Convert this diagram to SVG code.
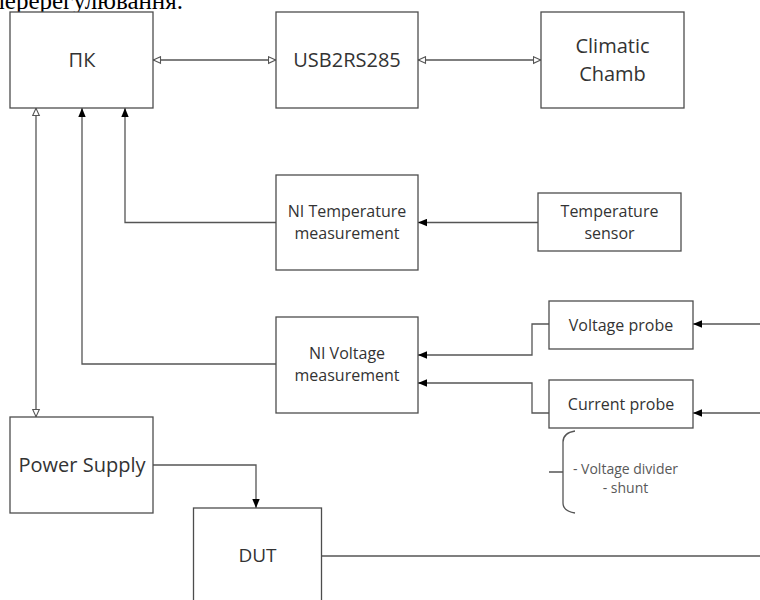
<svg xmlns="http://www.w3.org/2000/svg" width="760" height="600" viewBox="0 0 760 600">
<style>
  .box { fill: #ffffff; stroke: #4d4d4d; stroke-width: 1.3; }
  .ln { fill: none; stroke: #555555; stroke-width: 1.3; }
  .t { font-family: "Open Sans", "Liberation Sans", sans-serif; fill: #333333; text-anchor: middle; }
  .big { font-size: 20px; }
  .mid { font-size: 16px; }
  .note { font-family: "Open Sans", "Liberation Sans", sans-serif; font-size: 14px; fill: #595959; text-anchor: middle; }
  .cap { font-family: "Liberation Serif", serif; font-size: 25px; fill: #000000; }
</style>
<defs>
  <marker id="fa" markerUnits="userSpaceOnUse" markerWidth="10" markerHeight="8" viewBox="0 0 10 8" refX="9" refY="4" orient="auto-start-reverse">
    <path d="M0,0.3 L9,4 L0,7.7 z" fill="#000000"/>
  </marker>
  <marker id="oa" markerUnits="userSpaceOnUse" markerWidth="10" markerHeight="9" viewBox="0 0 10 9" refX="8.5" refY="4.5" orient="auto-start-reverse">
    <path d="M1,1.2 L8.2,4.5 L1,7.8 z" fill="#ffffff" stroke="#555555" stroke-width="1.1"/>
  </marker>
</defs>
<rect width="760" height="600" fill="#ffffff"/>
<text class="cap" x="183" y="9" text-anchor="end">перерегулювання.</text>

<g id="connectors">
  <path class="ln" d="M153,60 L276,60" marker-start="url(#oa)" marker-end="url(#oa)"/>
  <path class="ln" d="M418,60 L541,60" marker-start="url(#oa)" marker-end="url(#oa)"/>
  <path class="ln" d="M36,108 L36,417" marker-start="url(#oa)" marker-end="url(#oa)"/>
  <path class="ln" d="M276,364 L82,364 L82,108" marker-end="url(#fa)"/>
  <path class="ln" d="M276,222.5 L125,222.5 L125,108" marker-end="url(#fa)"/>
  <path class="ln" d="M538,222.5 L418,222.5" marker-end="url(#fa)"/>
  <path class="ln" d="M549,324 L532,324 L532,355 L418,355" marker-end="url(#fa)"/>
  <path class="ln" d="M549,413 L532,413 L532,383 L418,383" marker-end="url(#fa)"/>
  <path class="ln" d="M760,324 L693,324" marker-end="url(#fa)"/>
  <path class="ln" d="M760,413 L693,413" marker-end="url(#fa)"/>
  <path class="ln" d="M153,465 L256,465 L256,508" marker-end="url(#fa)"/>
  <path class="ln" d="M322,556 L760,556"/>
</g>

<g id="pk">
  <rect class="box" x="10" y="12" width="143" height="96"/>
  <text class="t big" x="82" y="67">ПК</text>
</g>
<g id="usb2rs285">
  <rect class="box" x="276" y="12" width="142" height="96"/>
  <text class="t big" x="347" y="67">USB2RS285</text>
</g>
<g id="climatic">
  <rect class="box" x="541" y="12" width="143" height="96"/>
  <text class="t big" x="612.5" y="53">Climatic</text>
  <text class="t big" x="612.5" y="81">Chamb</text>
</g>
<g id="ni-temp">
  <rect class="box" x="276" y="175" width="142" height="95"/>
  <text class="t mid" x="347" y="217">NI Temperature</text>
  <text class="t mid" x="347" y="239">measurement</text>
</g>
<g id="temp-sensor">
  <rect class="box" x="538" y="193" width="143" height="58"/>
  <text class="t mid" x="609.5" y="217">Temperature</text>
  <text class="t mid" x="609.5" y="239">sensor</text>
</g>
<g id="ni-voltage">
  <rect class="box" x="276" y="317" width="142" height="96"/>
  <text class="t mid" x="347" y="359">NI Voltage</text>
  <text class="t mid" x="347" y="381">measurement</text>
</g>
<g id="voltage-probe">
  <rect class="box" x="549" y="301" width="144" height="48"/>
  <text class="t mid" x="621" y="331">Voltage probe</text>
</g>
<g id="current-probe">
  <rect class="box" x="549" y="380" width="144" height="48"/>
  <text class="t mid" x="621" y="410">Current probe</text>
</g>
<g id="brace-note">
  <path class="ln" d="M575,431 Q563,433 563,442 L563,503 Q563,511 575,513 M549,472 L563,472"/>
  <text class="note" x="625.5" y="474">- Voltage divider</text>
  <text class="note" x="625.5" y="493">- shunt</text>
</g>
<g id="power-supply">
  <rect class="box" x="10" y="417" width="143" height="96"/>
  <text class="t big" x="82" y="472">Power Supply</text>
</g>
<g id="dut">
  <rect class="box" x="193.5" y="508" width="128" height="100"/>
  <text class="t" style="font-size:19px" x="257.5" y="562">DUT</text>
</g>
</svg>
